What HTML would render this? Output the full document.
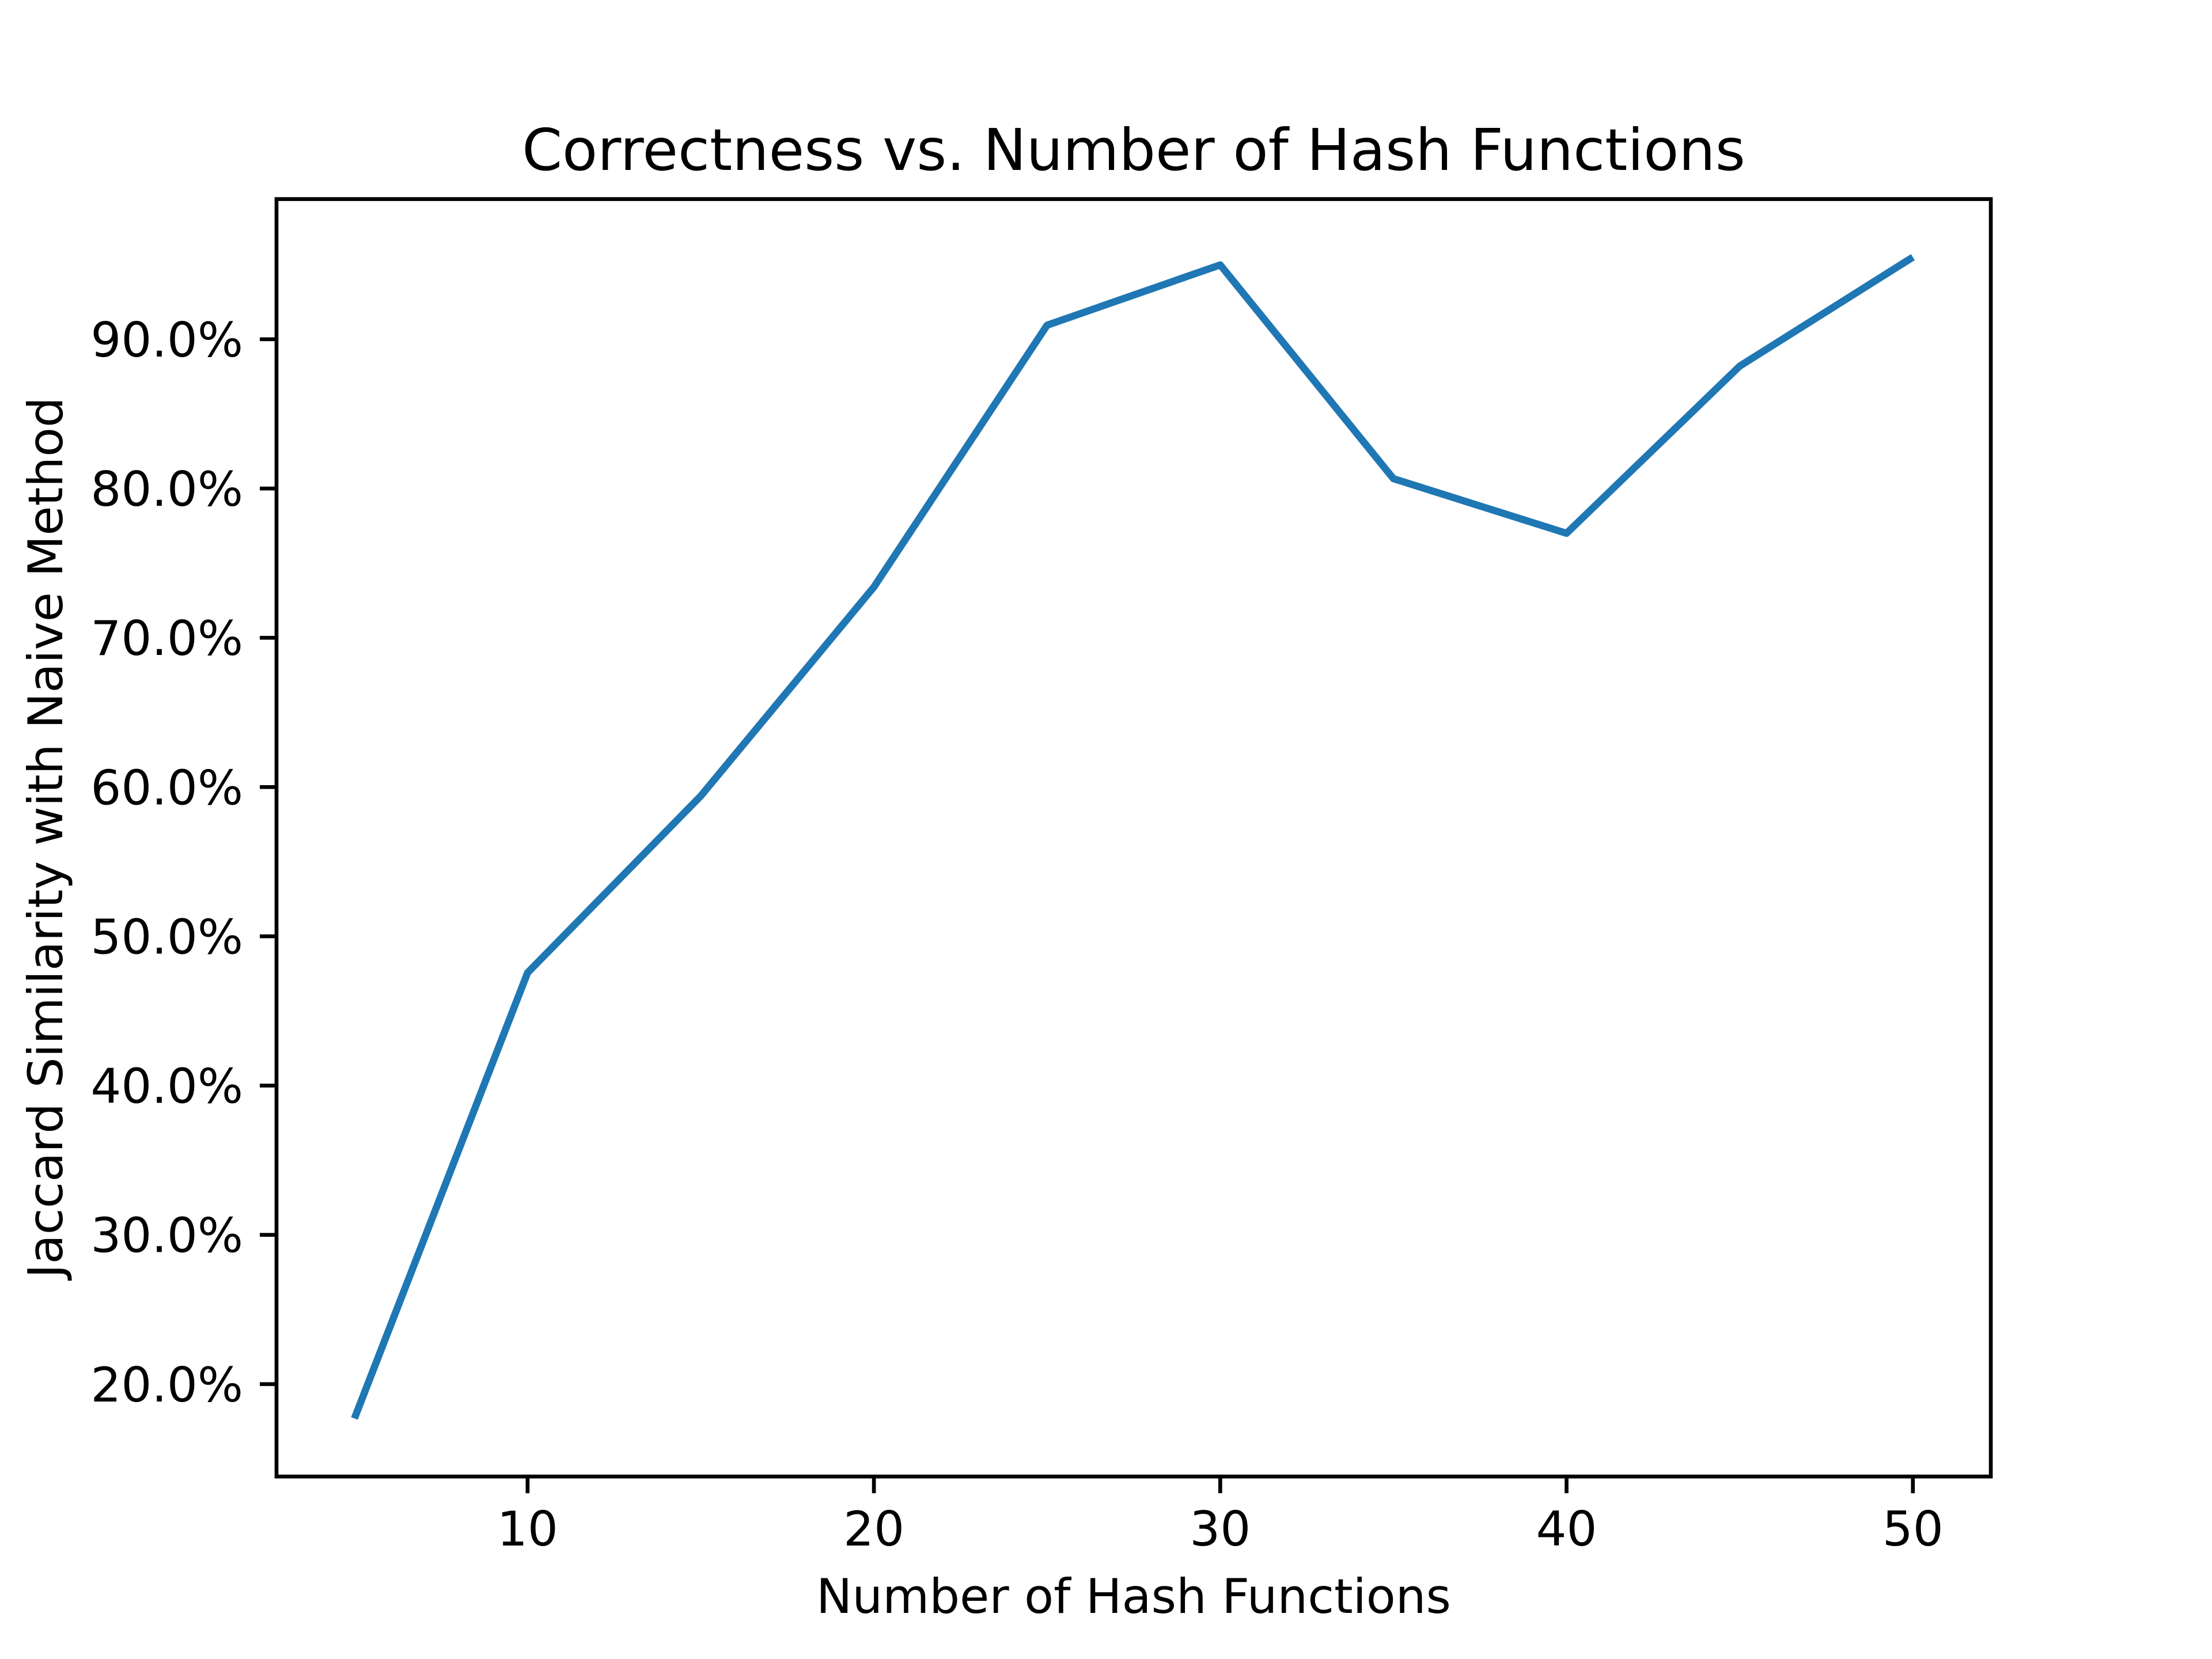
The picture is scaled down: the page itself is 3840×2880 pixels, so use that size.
<!DOCTYPE html>
<html><head><meta charset="utf-8"><style>
html,body{margin:0;padding:0;background:#fff;}
svg{display:block;font-family:"DejaVu Sans","Liberation Sans",sans-serif;}
</style></head><body>
<svg id="chart" width="3840" height="2880" viewBox="0 0 3840 2880" xmlns="http://www.w3.org/2000/svg">
<rect width="3840" height="2880" fill="#fff"/>
<text x="1968" y="295" font-size="100" text-anchor="middle" fill="#000">Correctness vs. Number of Hash Functions</text>
<text x="1968" y="2800" font-size="83.3" text-anchor="middle" fill="#000">Number of Hash Functions</text>
<text transform="translate(108,1454) rotate(-90)" font-size="83.3" text-anchor="middle" fill="#000">Jaccard Similarity with Naive Method</text>
<g id="ticks"></g>
<g id="series"></g>
<rect x="480" y="345.6" width="2976" height="2217.6" fill="none" stroke="#000" stroke-width="6.67"/>
</svg>
<script>
const hashCounts = [5,10,15,20,25,30,35,40,45,50];
const similarity = [17.7,47.56,59.4,73.4,90.94,94.98,80.66,77.0,88.2,95.5];
const xTicks = [10,20,30,40,50];
const yTicks = [20,30,40,50,60,70,80,90];

const L=480,R=3456,T=345.6,B=2563.2;
const xmin=Math.min(...hashCounts),xmax=Math.max(...hashCounts);
const xm=(xmax-xmin)*0.05;
const ymin=Math.min(...similarity),ymax=Math.max(...similarity);
const ym=(ymax-ymin)*0.05;
const xs=v=>L+(v-(xmin-xm))/((xmax+xm)-(xmin-xm))*(R-L);
const ys=v=>B-(v-(ymin-ym))/((ymax+ym)-(ymin-ym))*(B-T);
const NS="http://www.w3.org/2000/svg";
const tg=document.getElementById('ticks');
function mk(tag,attrs){const e=document.createElementNS(NS,tag);for(const k in attrs)e.setAttribute(k,attrs[k]);return e;}
xTicks.forEach(t=>{
  const x=xs(t);
  const l=mk('line',{x1:x,x2:x,y1:B,y2:B+29,stroke:'#000','stroke-width':6.67});
  
  
  tg.appendChild(l);
  const tx=mk('text',{x:x,y:B+29+29+62,'font-size':83.3,'text-anchor':'middle',fill:'#000'});
  tx.textContent=String(t);
  
  
  tg.appendChild(tx);
});
yTicks.forEach(t=>{
  const y=ys(t);
  const l=mk('line',{x1:L-29,x2:L,y1:y,y2:y,stroke:'#000','stroke-width':6.67});
  
  
  tg.appendChild(l);
  const tx=mk('text',{x:L-29-29,y:y+30,'font-size':83.3,'text-anchor':'end',fill:'#000'});
  tx.textContent=t.toFixed(1)+'%';
  
  
  tg.appendChild(tx);
});
const pts=hashCounts.map((h,i)=>xs(h)+','+ys(similarity[i])).join(' ');
const pl=mk('polyline',{points:pts,fill:'none',stroke:'#1f77b4','stroke-width':12.5,'stroke-linejoin':'round','stroke-linecap':'butt'});


document.getElementById('series').appendChild(pl);
</script>
</body></html>
